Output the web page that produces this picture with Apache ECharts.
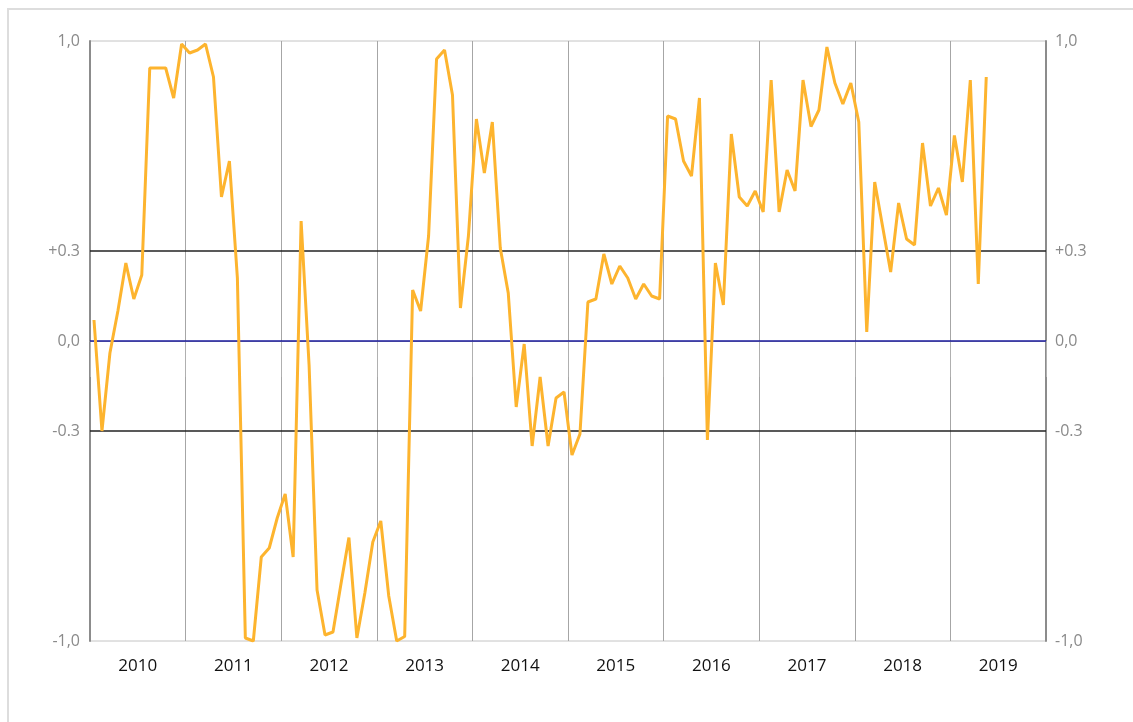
<!DOCTYPE html>
<html>
<head>
<meta charset="utf-8">
<script src="https://cdn.jsdelivr.net/npm/echarts@6/dist/echarts.min.js"></script>
<style>
html,body{margin:0;padding:0;background:#fff;}
#chart{width:1133px;height:722px;}
</style>
</head>
<body>
<div id="chart"></div>
<script>
// Year categories (band labels)
var years = ['2010','2011','2012','2013','2014','2015','2016','2017','2018','2019'];

// Monthly categories 2010-01 .. 2019-12
var months = [];
for (var y = 2010; y <= 2019; y++) {
  for (var m = 1; m <= 12; m++) months.push(y + '-' + (m < 10 ? '0' + m : m));
}

// Monthly values (2010-01 .. 2019-05)
var values2010 = [0.07, -0.30, -0.04, 0.10, 0.26, 0.14, 0.22, 0.91, 0.91, 0.91, 0.81, 0.99];
var values2011 = [0.96, 0.97, 0.99, 0.88, 0.48, 0.60, 0.21, -0.99, -1.00, -0.72, -0.69, -0.59];
var values2012 = [-0.51, -0.72, 0.40, -0.08, -0.83, -0.98, -0.97, -0.81, -0.655, -0.99, -0.84, -0.67];
var values2013 = [-0.60, -0.85, -1.00, -0.985, 0.17, 0.10, 0.35, 0.94, 0.97, 0.82, 0.11, 0.35];
var values2014 = [0.74, 0.56, 0.73, 0.31, 0.16, -0.22, -0.01, -0.35, -0.12, -0.35, -0.19, -0.17];
var values2015 = [-0.38, -0.31, 0.13, 0.14, 0.29, 0.19, 0.25, 0.21, 0.14, 0.19, 0.15, 0.14];
var values2016 = [0.75, 0.74, 0.60, 0.55, 0.81, -0.33, 0.26, 0.12, 0.69, 0.48, 0.45, 0.50];
var values2017 = [0.43, 0.87, 0.43, 0.57, 0.50, 0.87, 0.715, 0.77, 0.98, 0.86, 0.79, 0.86];
var values2018 = [0.73, 0.03, 0.53, 0.38, 0.23, 0.46, 0.34, 0.32, 0.66, 0.45, 0.51, 0.42];
var values2019 = [0.685, 0.53, 0.87, 0.19, 0.88];

var values = [].concat(values2010, values2011, values2012, values2013, values2014,
                       values2015, values2016, values2017, values2018, values2019);

// Y-axis tick labels
var yTickLabels = { '10': '1,0', '3': '+0.3', '0': '0,0', '-3': '-0.3', '-10': '-1,0' };
// Threshold reference values
var thresholds = [0.3, -0.3];
var zeroLine = 0;

var chart = echarts.init(document.getElementById('chart'));

function yFmt(v) {
  var k = String(Math.round(v * 10));
  return yTickLabels.hasOwnProperty(k) ? yTickLabels[k] : '';
}

var yAxisBase = {
  type: 'value',
  min: -1,
  max: 1,
  interval: 0.1,
  splitLine: { show: false },
  axisTick: { show: false },
  axisLine: { show: true, lineStyle: { color: '#8c8c8c', width: 2 } },
  axisLabel: {
    formatter: yFmt,
    color: '#8a8a8a',
    fontSize: 16,
    fontFamily: 'Open Sans',
    showMinLabel: true,
    showMaxLabel: true
  }
};

var option = {
  backgroundColor: '#ffffff',
  animation: false,
  graphic: [{
    type: 'rect',
    shape: { x: 8, y: 9, width: 1140, height: 740 },
    style: { fill: 'none', stroke: '#dddddd', lineWidth: 2 },
    silent: true,
    z: -10
  }],
  grid: {
    left: 90, right: 87, top: 41, bottom: 81,
    show: true, borderColor: '#c4c4c4', borderWidth: 1, backgroundColor: 'transparent'
  },
  xAxis: [{
    type: 'category',
    data: years,
    boundaryGap: true,
    position: 'bottom',
    axisLine: { show: true, lineStyle: { color: '#b0b0b0', width: 1 } },
    axisTick: { show: true, length: 36, interval: 0, lineStyle: { color: '#b0b0b0' } },
    axisLabel: { color: '#111111', fontSize: 17, fontFamily: 'Open Sans', margin: 17, interval: 0 },
    splitLine: { show: true, interval: 0, lineStyle: { color: '#a6a6a6', width: 1 } }
  }, {
    type: 'category',
    data: months,
    boundaryGap: true,
    show: false
  }],
  yAxis: [
    Object.assign({}, yAxisBase, { position: 'left', axisLabel: Object.assign({}, yAxisBase.axisLabel, { margin: 10 }) }),
    Object.assign({}, yAxisBase, { position: 'right', axisLabel: Object.assign({}, yAxisBase.axisLabel, { margin: 9 }) })
  ],
  series: [{
    type: 'line',
    xAxisIndex: 1,
    yAxisIndex: 0,
    data: values,
    showSymbol: false,
    symbol: 'none',
    lineStyle: { color: '#FDB42E', width: 3 },
    z: 5,
    markLine: {
      silent: true,
      symbol: 'none',
      label: { show: false },
      z: 3,
      data: [
        { yAxis: thresholds[0], lineStyle: { color: '#222222', width: 1.5, type: 'solid' } },
        { yAxis: thresholds[1], lineStyle: { color: '#222222', width: 1.5, type: 'solid' } },
        { yAxis: zeroLine, lineStyle: { color: '#1a1a9c', width: 1.5, type: 'solid' } }
      ]
    }
  }]
};

chart.setOption(option);
</script>
</body>
</html>
